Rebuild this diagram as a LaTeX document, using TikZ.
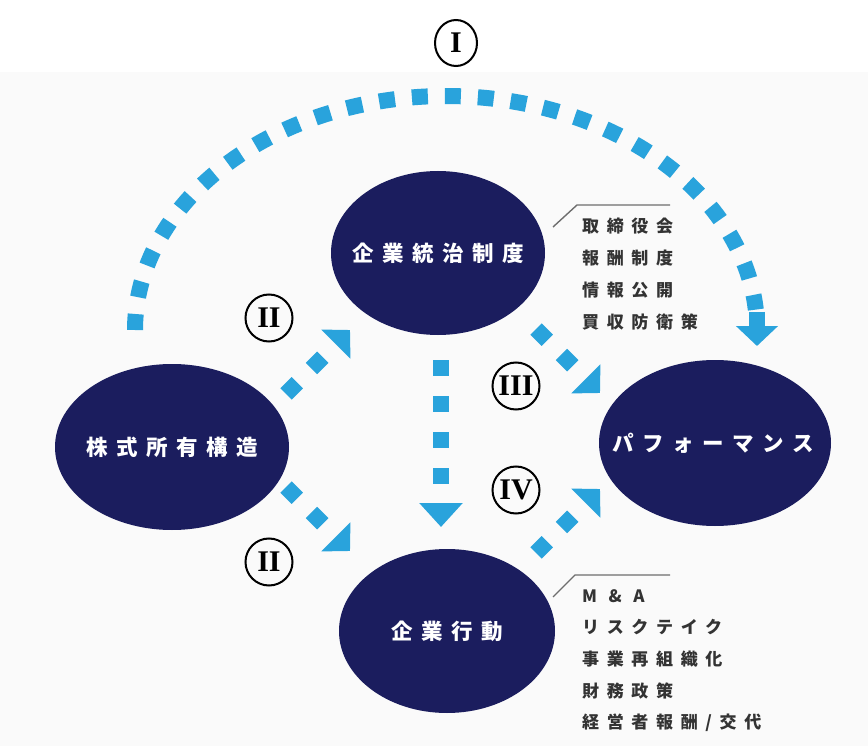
\documentclass[tikz,border=0pt]{standalone}
\usepackage{fontspec}
\usetikzlibrary{arrows.meta,shapes.geometric}
\newfontfamily\jpell[LetterSpace=40]{Noto Sans CJK JP}
\newfontfamily\jplist[LetterSpace=45]{Noto Sans CJK JP}
\newfontfamily\romfont{Liberation Serif}
\definecolor{navy}{HTML}{1B1D5E}
\definecolor{skyb}{HTML}{29A3DC}
\definecolor{bgg}{HTML}{FAFAFA}
\definecolor{txtg}{HTML}{333333}
\definecolor{lineg}{HTML}{6E6E6E}
\begin{document}
\begin{tikzpicture}[x=1pt,y=-1pt,
  ell/.style={ellipse,fill=navy,inner sep=0pt},
  elltxt/.style={inner sep=0pt,text=white,font=\jpell\bfseries\fontsize{21.5}{24}\selectfont},
  flow/.style={draw=skyb,line width=16pt,dash pattern=on 16pt off 20pt,-{Triangle[width=40pt,length=20pt]}},
  numc/.style={circle,draw=black,line width=2pt,minimum size=47pt,inner sep=0pt,font=\romfont\bfseries\fontsize{30}{32}\selectfont},
  lst/.style={anchor=west,inner sep=0pt,text=txtg,font=\jplist\bfseries\fontsize{17}{19}\selectfont},
  lead/.style={draw=lineg,line width=1.4pt}]
\useasboundingbox (0,0) rectangle (868,746);
\fill[white] (0,0) rectangle (868,746);
\fill[bgg] (0,72) rectangle (868,746);

% ellipses
\node[ell,minimum width=214pt,minimum height=164pt] (gov) at (438,253) {};
\node[ell,minimum width=234pt,minimum height=166pt] (own) at (172,447) {};
\node[ell,minimum width=232pt,minimum height=166pt] (perf) at (715,443) {};
\node[ell,minimum width=216pt,minimum height=164pt] (act) at (447,631) {};
\node[elltxt] (govt) at (gov) {企業統治制度};
\node[elltxt] (ownt) at (own) {株式所有構造};
\node[elltxt] (perft) at ([xshift=-2pt]perf.center) {パフォーマンス};
\node[elltxt] (actt) at (act) {企業行動};

% arc I
\coordinate (arcS) at (135,330);
\coordinate (arcM) at (757,312);
\coordinate (arcE) at (757,346);
\draw[draw=skyb,line width=16pt,dash pattern=on 16pt off 17pt]
  plot[domain=180:5,samples=90,smooth] ({446+311*cos(\x)},{330-234*sin(\x)});
\draw[draw=skyb,line width=16pt,-{Triangle[width=41pt,length=20pt]}] (arcM) -- (arcE);

% diagonal and vertical flows
\coordinate (a1) at (286,394); \coordinate (b1) at (350,330);
\coordinate (a2) at (286,487); \coordinate (b2) at (350,551);
\coordinate (a3) at (536,329); \coordinate (b3) at (600,393);
\coordinate (a4) at (536,553); \coordinate (b4) at (600,489);
\coordinate (a5) at (441,360); \coordinate (b5) at (441,527);
\draw[flow] (a1) -- (b1);
\draw[flow] (a2) -- (b2);
\draw[flow] (a3) -- (b3);
\draw[flow] (a4) -- (b4);
\draw[flow,-{Triangle[width=42pt,length=24pt]}] (a5) -- (b5);

% numerals
\node[numc,minimum width=42pt,minimum height=46pt,ellipse] (n1) at (456,43) {I};
\node[numc] (n2) at (269,318) {II};
\node[numc] (n3) at (516,386) {III};
\node[numc] (n4) at (516,490) {IV};
\node[numc] (n5) at (269,562) {II};

% lists
\coordinate (g1) at (553,227); \coordinate (g2) at (577,205); \coordinate (g3) at (670,205);
\draw[lead] (g1) -- (g2) -- (g3);
\node[lst] (l1) at (582,226) {取締役会};
\node[lst] (l2) at (582,258) {報酬制度};
\node[lst] (l3) at (582,290) {情報公開};
\node[lst] (l4) at (582,322) {買収防衛策};

\coordinate (h1) at (553,597); \coordinate (h2) at (575,575); \coordinate (h3) at (670,575);
\draw[lead] (h1) -- (h2) -- (h3);
\node[lst] (m1) at (582,596) {M \& A};
\node[lst] (m2) at (582,627) {リスクテイク};
\node[lst] (m3) at (582,659) {事業再組織化};
\node[lst] (m4) at (582,691) {財務政策};
\node[lst] (m5) at (582,723) {経営者報酬/交代};
\end{tikzpicture}
\end{document}
